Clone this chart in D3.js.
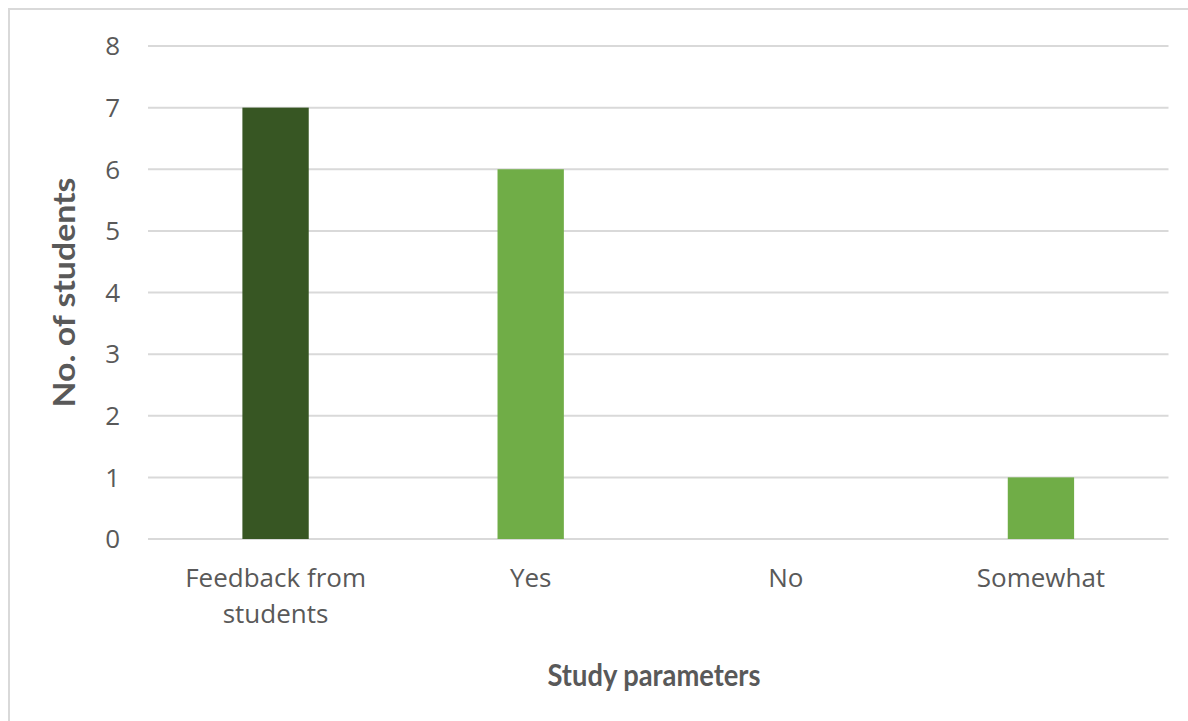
<!DOCTYPE html>
<html><head><meta charset="utf-8">
<script src="https://cdn.jsdelivr.net/npm/d3@7"></script>
<style>html,body{margin:0;padding:0;background:#fff;overflow:hidden}</style>
</head><body>
<svg id="c" width="1188" height="721"></svg>
<script>
const categories = ["Feedback from students", "Yes", "No", "Somewhat"];
const values = [7, 6, 0, 1];
const barColors = ["#375623", "#70AD47", "#70AD47", "#70AD47"];
const yTicks = [0, 1, 2, 3, 4, 5, 6, 7, 8];
const yTitle = "No. of students";
const xTitle = "Study parameters";

const svg = d3.select("#c");
const W = 1188, H = 721;
const m = {left: 148, right: 19.5, top: 46, bottom: 182};
const pw = W - m.left - m.right, ph = H - m.top - m.bottom;

svg.append("rect").attr("x", 9).attr("y", 9).attr("width", 1300).attr("height", 1000)
  .attr("fill", "#fff").attr("stroke", "#d9d9d9").attr("stroke-width", 2);

const x = d3.scaleBand().domain(categories).range([m.left, m.left + pw]).padding(0);
const y = d3.scaleLinear().domain([0, 8]).range([m.top + ph, m.top]);

const g = svg.append("g");
g.selectAll("line.grid").data(yTicks).join("line").attr("class", "grid")
  .attr("x1", m.left).attr("x2", m.left + pw)
  .attr("y1", d => y(d)).attr("y2", d => y(d))
  .attr("stroke", "#d9d9d9").attr("stroke-width", 2);

const font = "'Open Sans', 'Noto Sans', sans-serif";
g.selectAll("text.yt").data(yTicks).join("text").attr("class", "yt")
  .attr("x", m.left - 28).attr("y", d => y(d)).attr("dy", "0.36em")
  .attr("text-anchor", "end").attr("font-family", font).attr("font-size", 26)
  .attr("fill", "#595959").text(d => d);

const bw = x.bandwidth() * 0.26;
g.selectAll("rect.bar").data(categories).join("rect").attr("class", "bar")
  .attr("x", d => x(d) + x.bandwidth() / 2 - bw / 2)
  .attr("width", bw)
  .attr("y", (d, i) => y(values[i]))
  .attr("height", (d, i) => y(0) - y(values[i]))
  .attr("fill", (d, i) => barColors[i]);

const lines = {"Feedback from students": ["Feedback from", "students"]};
categories.forEach(c => {
  const t = g.append("text").attr("text-anchor", "middle").attr("font-family", font)
    .attr("font-size", 26).attr("fill", "#595959");
  (lines[c] || [c]).forEach((l, i) => {
    t.append("tspan").attr("x", x(c) + x.bandwidth() / 2).attr("y", 587 + i * 36).text(l);
  });
});

const tfont = "Lato, 'Open Sans', sans-serif";
svg.append("text").attr("transform", `translate(75,${292.5}) rotate(-90)`)
  .attr("text-anchor", "middle").attr("font-family", tfont).attr("font-weight", "bold")
  .attr("font-size", 30).attr("fill", "#595959")
  .attr("textLength", 230).attr("lengthAdjust", "spacingAndGlyphs").text(yTitle);
svg.append("text").attr("x", 654).attr("y", 686)
  .attr("text-anchor", "middle").attr("font-family", tfont).attr("font-weight", "bold")
  .attr("font-size", 30).attr("fill", "#595959")
  .attr("textLength", 213).attr("lengthAdjust", "spacingAndGlyphs").text(xTitle);
</script>
</body></html>
